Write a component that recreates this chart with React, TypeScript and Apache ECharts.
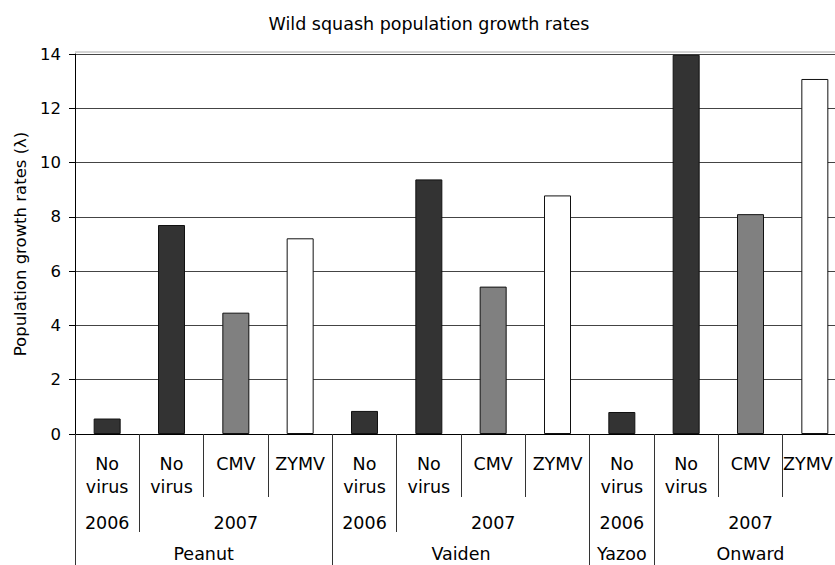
import React, { useEffect, useRef } from "react";
import * as echarts from "echarts";

const title = "Wild squash population growth rates";
const yAxisName = "Population growth rates (λ)";
const treatments = ["No\nvirus", "No\nvirus", "CMV", "ZYMV", "No\nvirus", "No\nvirus", "CMV", "ZYMV", "No\nvirus", "No\nvirus", "CMV", "ZYMV"];
const treatmentKind = ["none", "none", "CMV", "ZYMV", "none", "none", "CMV", "ZYMV", "none", "none", "CMV", "ZYMV"];
const values = [0.57, 7.7, 4.47, 7.21, 0.85, 9.38, 5.43, 8.79, 0.81, 13.97, 8.1, 13.08];
// year label shown at the middle column of each year span
const yearLabels = ["2006", "", "2007", "", "2006", "", "2007", "", "2006", "", "2007", ""];
const yearBoundaries = [0, 1, 4, 5, 8, 9];
const sites = ["Peanut", "Vaiden", "Yazoo", "Onward"];
const siteStart = [0, 4, 8, 9];
const siteSpan = [4, 4, 1, 3];
const yTicks = [0, 2, 4, 6, 8, 10, 12, 14];

const kindColor: Record<string, string> = { none: "#333333", CMV: "#808080", ZYMV: "#ffffff" };

const FONT = "DejaVu Sans, Verdana, sans-serif";

export default function App() {
  const ref = useRef<HTMLDivElement>(null);
  useEffect(() => {
    if (!ref.current) return;
    const chart = echarts.init(ref.current, null, { renderer: "svg" });
    const siteCenters = sites.map((_, i) => siteStart[i] + siteSpan[i] / 2);
    const labelStyle = { color: "#000", fontFamily: FONT, fontSize: 17.5, lineHeight: 23 };
    const lastIdx = treatments.length - 1;
    chart.setOption({
      animation: false,
      backgroundColor: "#fff",
      title: {
        text: title,
        left: 424,
        top: 10,
        textAlign: "center",
        textStyle: { fontFamily: FONT, fontSize: 17.5, fontWeight: "normal", color: "#000" },
      },
      grid: { left: 75, right: 0, top: 54, bottom: 131, containLabel: false, outerBoundsMode: "none" },
      xAxis: [
        {
          type: "category",
          data: treatments.map((t, i) =>
            i === lastIdx ? { value: t, textStyle: { padding: [0, 14, 0, 0] } } : t
          ),
          position: "bottom",
          axisLine: { show: true, lineStyle: { color: "#000", width: 1 } },
          axisTick: { show: true, length: 63, lineStyle: { color: "#333", width: 1 } },
          axisLabel: { ...labelStyle, interval: 0, margin: 18 },
          splitLine: { show: false },
        },
        {
          type: "category",
          data: yearLabels,
          position: "bottom",
          axisLine: { show: false },
          axisTick: {
            show: true,
            length: 98,
            interval: (i: number) => yearBoundaries.indexOf(i) >= 0,
            lineStyle: { color: "#333", width: 1 },
          },
          axisLabel: { ...labelStyle, interval: 0, margin: 77 },
        },
        {
          type: "category",
          data: treatments.map(() => ""),
          position: "bottom",
          axisLine: { show: false },
          axisTick: {
            show: true,
            length: 131,
            interval: (i: number) => siteStart.indexOf(i) >= 0,
            lineStyle: { color: "#333", width: 1 },
          },
          axisLabel: { show: false },
        },
        {
          type: "value",
          min: 0,
          max: treatments.length,
          interval: 0.5,
          position: "bottom",
          axisLine: { show: false },
          axisTick: { show: false },
          splitLine: { show: false },
          axisLabel: {
            ...labelStyle,
            lineHeight: 16,
            margin: 112,
            formatter: (v: number) => {
              const k = siteCenters.findIndex((c) => Math.abs(c - v) < 1e-6);
              return k >= 0 ? sites[k] : "";
            },
          },
        },
      ],
      yAxis: {
        type: "value",
        min: yTicks[0],
        max: yTicks[yTicks.length - 1],
        interval: 2,
        name: yAxisName,
        nameLocation: "middle",
        nameGap: 46,
        nameTextStyle: { fontFamily: FONT, fontSize: 16.5, color: "#000" },
        axisLine: { show: true, lineStyle: { color: "#000", width: 1 } },
        axisTick: { show: true, length: 6, lineStyle: { color: "#000" } },
        axisLabel: { color: "#000", fontFamily: FONT, fontSize: 16.5, margin: 14 },
        splitLine: { show: true, lineStyle: { color: "#444", width: 1 } },
      },
      graphic: [
        {
          type: "line",
          shape: { x1: 75, y1: 52, x2: 847, y2: 52 },
          style: { stroke: "#aaa", lineWidth: 1 },
          silent: true,
        },
      ],
      series: [
        {
          type: "bar",
          xAxisIndex: 0,
          yAxisIndex: 0,
          barWidth: 27,
          data: values.map((v, i) => ({
            value: v,
            itemStyle: { color: kindColor[treatmentKind[i]], borderColor: "#111", borderWidth: 1 },
          })),
        },
      ],
    });
    return () => chart.dispose();
  }, []);
  return (
    <div style={{ position: "absolute", left: 0, top: 0, width: 835, height: 565, overflow: "hidden" }}>
      <div ref={ref} style={{ width: 847, height: 565 }} />
    </div>
  );
}
